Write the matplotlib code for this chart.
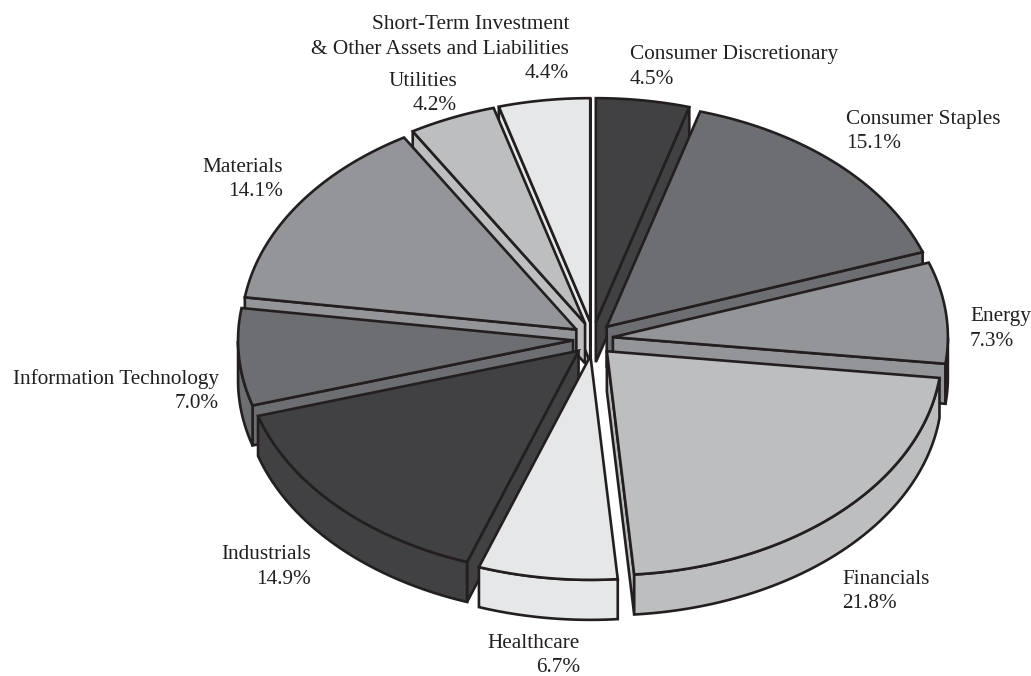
import numpy as np
import matplotlib
matplotlib.use("Agg")
import matplotlib.pyplot as plt
from matplotlib.patches import Polygon

# sector shares in percent, clockwise from 12 o'clock
sectors = ["Consumer Discretionary", "Consumer Staples", "Energy", "Financials", "Healthcare",
           "Industrials", "Information Technology", "Materials", "Utilities",
           "Short-Term Investment\n& Other Assets and Liabilities"]
shares = [4.5, 15.1, 7.3, 21.8, 6.7, 14.9, 7.0, 14.1, 4.2, 4.4]
greys = ["#414042", "#6d6e71", "#939598", "#bcbec0", "#e6e7e8",
         "#414042", "#6d6e71", "#939598", "#bcbec0", "#e6e7e8"]

# pie geometry, in pixels
CX, CY = 593, 339
RX, RY = 335, 224
EXPLODE_X, EXPLODE_Y = 20, 17
DEPTH = 40
INK = "#231f20"
LW = 1.9

# label anchor: x, baseline y of first line, alignment
label_pos = [(630, 59, "left"), (846, 124, "left"), (970, 321, "left"), (842, 584, "left"),
             (580, 648, "right"), (311, 559, "right"), (219, 384, "right"), (283, 172, "right"),
             (457, 86, "right"), (569, 29, "right")]

plt.rcParams["font.family"] = ["Liberation Serif", "DejaVu Serif"]
fig = plt.figure(figsize=(10.31, 6.76), dpi=100)
ax = fig.add_axes([0, 0, 1, 1])
ax.set_xlim(0, 1031)
ax.set_ylim(676, 0)
ax.axis("off")


def poly(pts, color, z):
    ax.add_patch(Polygon(pts, closed=True, facecolor=color, edgecolor=INK, linewidth=LW,
                         joinstyle="miter", zorder=z))


def draw_slice(start, end, color, z):
    mid = (start + end) / 2
    ax0 = CX + EXPLODE_X * np.sin(mid)
    ay0 = CY - EXPLODE_Y * np.cos(mid)
    apex = np.array([ax0, ay0])
    t = np.linspace(start, end, 120)
    arc = np.column_stack([ax0 + RX * np.sin(t), ay0 - RY * np.cos(t)])
    down = np.array([0, DEPTH])
    mid_dir = np.array([RX * np.sin(mid), -RY * np.cos(mid)])

    # cut faces, only when they look towards the viewer
    for corner in (arc[0], arc[-1]):
        e = corner - apex
        n = np.array([-e[1], e[0]])
        if n @ mid_dir > 0:
            n = -n
        if n[1] > 0:
            poly([apex, corner, corner + down, apex + down], color, z)

    # rim, front half of the ellipse only
    front = arc[np.cos(t) <= 0]
    if len(front) > 1:
        poly(np.vstack([front, (front + down)[::-1]]), color, z)

    poly(np.vstack([apex, arc]), color, z)


edges = np.cumsum([0] + shares) / sum(shares) * 2 * np.pi
mids = (edges[:-1] + edges[1:]) / 2
# paint from the back of the pie to the front
order = np.argsort(-np.cos(mids))
for z, i in enumerate(order):
    draw_slice(edges[i], edges[i + 1], greys[i], z + 1)

for name, share, (x, y, ha) in zip(sectors, shares, label_pos):
    lines = name.split("\n") + [f"{share:.1f}%"]
    for k, line in enumerate(lines):
        ax.text(x, y + k * 24.5, line, ha=ha, va="baseline", fontsize=15.3, color=INK, zorder=50)

fig.savefig("out.png", dpi=100)
